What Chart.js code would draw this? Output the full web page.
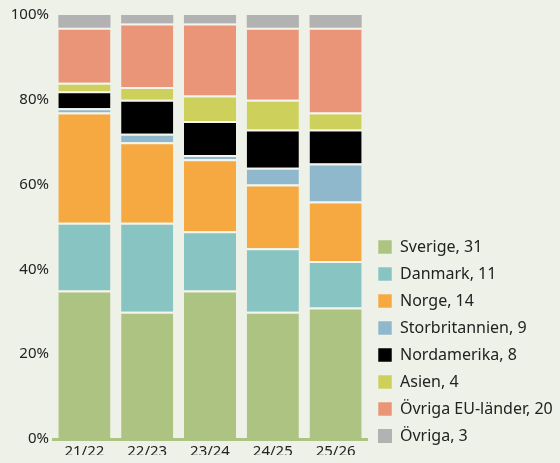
<!DOCTYPE html>
<html>
<head>
<meta charset="utf-8">
<script src="https://cdn.jsdelivr.net/npm/chart.js@4"></script>
<style>
html,body{margin:0;padding:0;background:#eef1e7;}
#wrap{width:560px;height:463px;position:relative;}
</style>
</head>
<body>
<div id="wrap"><canvas id="c" width="560" height="463"></canvas></div>
<script>
const categories = ['21/22', '22/23', '23/24', '24/25', '25/26'];
const seriesNames = ['Sverige, 31', 'Danmark, 11', 'Norge, 14', 'Storbritannien, 9', 'Nordamerika, 8', 'Asien, 4', 'Övriga EU-länder, 20', 'Övriga, 3'];
const sverige = [35, 30, 35, 30, 31];
const danmark = [16, 21, 14, 15, 11];
const norge = [26, 19, 17, 15, 14];
const storbritannien = [1, 2, 1, 4, 9];
const nordamerika = [4, 8, 8, 9, 8];
const asien = [2, 3, 6, 7, 4];
const ovrigaEU = [13, 15, 17, 17, 20];
const ovriga = [3, 2, 2, 3, 3];
const yTicks = [0, 20, 40, 60, 80, 100];

const seriesValues = [sverige, danmark, norge, storbritannien, nordamerika, asien, ovrigaEU, ovriga];
const colors = ['#adc381', '#87c4c2', '#f6a941', '#90b8cd', '#000000', '#cdd05a', '#ea9578', '#b2b2b2'];
const FONT = '"Noto Sans", "Open Sans", sans-serif';
const LEGEND_WIDTH = 193;

const datasets = seriesValues.map((vals, i) => ({
  label: seriesNames[i],
  data: vals,
  backgroundColor: colors[i],
  borderColor: '#f3f5ee',
  borderWidth: i === seriesValues.length - 1 ? 0 : {top: 2, right: 0, bottom: 0, left: 0},
  borderSkipped: false,
  categoryPercentage: 1,
  barPercentage: 0.83
}));

const legendWidthPlugin = {
  id: 'legendWidth',
  afterInit(chart) {
    const lg = chart.legend;
    if (!lg) return;
    const origFit = lg.fit.bind(lg);
    lg.fit = function () {
      this.maxWidth = 400;
      origFit();
      this.width = LEGEND_WIDTH;
    };
  }
};

new Chart(document.getElementById('c'), {
  type: 'bar',
  data: { labels: categories, datasets },
  plugins: [legendWidthPlugin],
  options: {
    responsive: false,
    animation: false,
    layout: { padding: { top: 15, bottom: 8, left: 0, right: 0 } },
    plugins: {
      tooltip: { enabled: false },
      legend: {
        position: 'right',
        align: 'end',
        labels: {
          boxWidth: 14,
          boxHeight: 14,
          padding: 11,
          color: '#222',
          font: { family: FONT, size: 16 }
        }
      }
    },
    scales: {
      x: {
        stacked: true,
        grid: { display: false, drawTicks: false },
        border: { display: true, color: '#adc381', width: 3 },
        ticks: { color: '#222', font: { family: FONT, size: 15 }, padding: 4 },
        afterFit: s => { s.height = 16; }
      },
      y: {
        stacked: true,
        min: 0, max: 100,
        afterBuildTicks: s => { s.ticks = yTicks.map(v => ({ value: v })); },
        grid: { display: false, drawTicks: false },
        border: { display: false },
        ticks: { color: '#222', font: { family: FONT, size: 15 }, padding: 4, callback: v => v + '%' },
        afterFit: s => { s.width = 53; }
      }
    }
  }
});
</script>
</body>
</html>
